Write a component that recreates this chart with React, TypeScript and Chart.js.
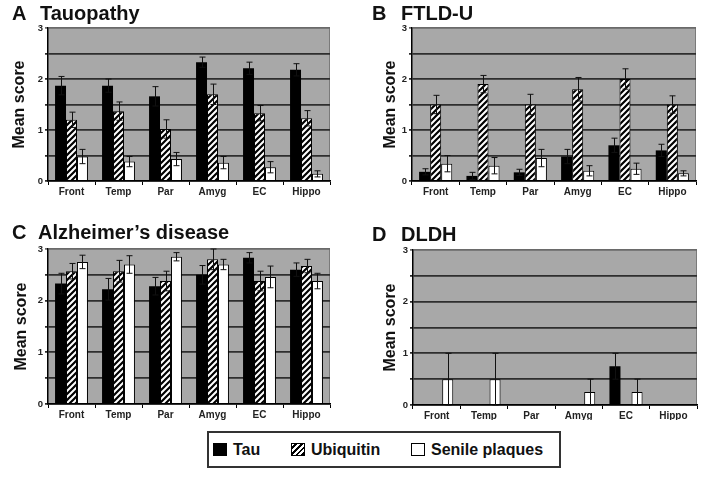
import React, { useEffect, useRef } from 'react';
import { Chart, registerables } from 'chart.js';
Chart.register(...registerables);

const FONT = '"Liberation Sans", Arial, Helvetica, sans-serif';

const categories = ['Front', 'Temp', 'Par', 'Amyg', 'EC', 'Hippo'];
const seriesNames = ['Tau', 'Ubiquitin', 'Senile plaques'];
const yAxisTitle = 'Mean score';

// Panel A – Tauopathy
const tauA = [1.87, 1.87, 1.66, 2.33, 2.21, 2.18];
const tauAErr = [0.18, 0.13, 0.19, 0.1, 0.12, 0.12];
const ubiA = [1.2, 1.37, 1.02, 1.7, 1.33, 1.23];
const ubiAErr = [0.15, 0.18, 0.18, 0.2, 0.15, 0.15];
const spA = [0.48, 0.38, 0.43, 0.36, 0.27, 0.14];
const spAErr = [0.14, 0.1, 0.13, 0.12, 0.11, 0.06];

// Panel B – FTLD-U
const tauB = [0.18, 0.1, 0.17, 0.48, 0.7, 0.6];
const tauBErr = [0.06, 0.07, 0.06, 0.14, 0.14, 0.12];
const ubiB = [1.5, 1.9, 1.5, 1.8, 2.0, 1.5];
const ubiBErr = [0.18, 0.17, 0.2, 0.23, 0.2, 0.17];
const spB = [0.34, 0.3, 0.45, 0.2, 0.24, 0.15];
const spBErr = [0.16, 0.16, 0.17, 0.1, 0.11, 0.05];

// Panel C – Alzheimer's disease
const tauC = [2.33, 2.22, 2.28, 2.5, 2.83, 2.6];
const tauCErr = [0.2, 0.21, 0.17, 0.18, 0.1, 0.13];
const ubiC = [2.57, 2.57, 2.38, 2.8, 2.38, 2.67];
const ubiCErr = [0.15, 0.21, 0.19, 0.2, 0.19, 0.13];
const spC = [2.75, 2.7, 2.85, 2.7, 2.46, 2.38];
const spCErr = [0.13, 0.17, 0.08, 0.1, 0.21, 0.15];

// Panel D – DLDH
const tauD = [0, 0, 0, 0, 0.75, 0];
const tauDErr = [0, 0, 0, 0, 0.25, 0];
const ubiD = [0, 0, 0, 0, 0, 0];
const ubiDErr = [0, 0, 0, 0, 0, 0];
const spD = [0.5, 0.5, 0, 0.25, 0.25, 0];
const spDErr = [0.5, 0.5, 0, 0.25, 0.25, 0];

function makeHatch(): CanvasPattern | string {
  const c = document.createElement('canvas');
  c.width = 6;
  c.height = 6;
  const g = c.getContext('2d');
  if (!g) return '#888';
  g.fillStyle = '#fff';
  g.fillRect(0, 0, 6, 6);
  g.strokeStyle = '#000';
  g.lineWidth = 2.2;
  g.beginPath();
  g.moveTo(-1, 7);
  g.lineTo(7, -1);
  g.moveTo(-1, 1);
  g.lineTo(1, -1);
  g.moveTo(5, 7);
  g.lineTo(7, 5);
  g.stroke();
  return g.createPattern(c, 'repeat') || '#888';
}

type PanelProps = {
  letter: string;
  title: string;
  tau: number[]; tauErr: number[];
  ubi: number[]; ubiErr: number[];
  sp: number[]; spErr: number[];
  left: number; top: number; width: number; height: number;
  padTop: number; padRight: number; yWidth: number; xHeight: number;
  letterX: number; titleX: number; titleY: number; yTitlePad: number;
};

function Panel(p: PanelProps) {
  const ref = useRef<HTMLCanvasElement | null>(null);
  useEffect(() => {
    if (!ref.current) return;
    const hatch = makeHatch();
    const bgPlugin = {
      id: 'plotBg',
      beforeDraw(chart: any) {
        const { ctx, chartArea: a } = chart;
        ctx.save();
        ctx.fillStyle = '#a8a8a8';
        ctx.fillRect(a.left, a.top, a.right - a.left, a.bottom - a.top);
        ctx.strokeStyle = '#7a7a7a';
        ctx.lineWidth = 1;
        ctx.beginPath();
        ctx.moveTo(a.right - 0.5, a.top);
        ctx.lineTo(a.right - 0.5, a.bottom);
        ctx.stroke();
        ctx.restore();
      },
    };
    const errPlugin = {
      id: 'errBars',
      afterDatasetsDraw(chart: any) {
        const { ctx } = chart;
        const y = chart.scales.y;
        ctx.save();
        ctx.strokeStyle = '#111';
        ctx.lineWidth = 1;
        chart.data.datasets.forEach((ds: any, i: number) => {
          const meta = chart.getDatasetMeta(i);
          meta.data.forEach((bar: any, j: number) => {
            const e = ds.errorBars[j];
            if (!e) return;
            const v = ds.data[j];
            const x = Math.round(bar.x) + 0.5;
            const yT = y.getPixelForValue(v + e);
            const yB = y.getPixelForValue(Math.max(0, v - e));
            ctx.beginPath();
            ctx.moveTo(x, yT);
            ctx.lineTo(x, yB);
            ctx.moveTo(x - 3, yT);
            ctx.lineTo(x + 3, yT);
            ctx.moveTo(x - 3, yB);
            ctx.lineTo(x + 3, yB);
            ctx.stroke();
          });
        });
        ctx.restore();
      },
    };
    const titlePlugin = {
      id: 'panelTitle',
      afterDraw(chart: any) {
        const { ctx } = chart;
        ctx.save();
        ctx.fillStyle = '#111';
        ctx.font = `bold 20px ${FONT}`;
        ctx.textBaseline = 'middle';
        ctx.textAlign = 'left';
        ctx.fillText(p.letter, p.letterX, p.titleY);
        ctx.fillText(p.title, p.titleX, p.titleY);
        ctx.restore();
      },
    };
    const chart = new Chart(ref.current, {
      type: 'bar',
      data: {
        labels: categories,
        datasets: [
          {
            label: seriesNames[0], data: p.tau, errorBars: p.tauErr,
            backgroundColor: '#000', borderColor: '#000', borderWidth: 0,
          } as any,
          {
            label: seriesNames[1], data: p.ubi, errorBars: p.ubiErr,
            backgroundColor: hatch, borderColor: '#000', borderWidth: 1,
          } as any,
          {
            label: seriesNames[2], data: p.sp, errorBars: p.spErr,
            backgroundColor: '#fff', borderColor: '#000', borderWidth: 1,
          } as any,
        ],
      },
      options: {
        responsive: false,
        animation: false,
        datasets: { bar: { barPercentage: 1, categoryPercentage: 0.7 } },
        layout: { padding: { left: 0, right: p.padRight, top: p.padTop, bottom: 0 } },
        plugins: { legend: { display: false }, tooltip: { enabled: false }, title: { display: false } },
        scales: {
          x: {
            ticks: { font: { family: FONT, size: 10, weight: 'bold' }, color: '#222', padding: 1, maxRotation: 0, autoSkip: false },
            grid: { offset: true, drawOnChartArea: false, drawTicks: true, tickLength: 4, color: '#000', lineWidth: 1 },
            border: { display: true, color: '#000', width: 1.5 },
            afterFit: (s: any) => { s.height = p.xHeight; },
          },
          y: {
            min: 0,
            max: 3,
            ticks: {
              stepSize: 0.5,
              callback: (v: any) => (Number.isInteger(Number(v)) ? String(v) : ''),
              font: { family: FONT, size: 9.5, weight: 'bold' },
              color: '#222',
              padding: 2,
            },
            grid: {
              color: (c: any) => (c.tick && c.tick.value === 3 ? '#6a6a6a' : '#2e2e2e'),
              lineWidth: 1.8,
              tickLength: 3,
              drawTicks: true,
            },
            border: { display: true, color: '#000', width: 1.5 },
            title: {
              display: true,
              text: yAxisTitle,
              font: { family: FONT, size: 16, weight: 'bold' },
              color: '#111',
              padding: { top: p.yTitlePad, bottom: 0 },
            },
            afterFit: (s: any) => { s.width = p.yWidth; },
          },
        },
      } as any,
      plugins: [bgPlugin, errPlugin, titlePlugin],
    });
    return () => chart.destroy();
  }, []);
  return (
    <canvas
      ref={ref}
      width={p.width}
      height={p.height}
      style={{ position: 'absolute', left: p.left, top: p.top, width: p.width, height: p.height }}
    />
  );
}

function Swatch({ kind }: { kind: number }) {
  const base: React.CSSProperties = {
    display: 'inline-block', width: 14, height: 13, boxSizing: 'border-box',
    border: '1px solid #000', marginRight: 6, verticalAlign: 'middle',
  };
  if (kind === 0) return <span style={{ ...base, background: '#000' }} />;
  if (kind === 1)
    return (
      <span
        style={{
          ...base,
          background: 'repeating-linear-gradient(135deg, #fff 0px, #fff 2px, #000 2px, #000 4px)',
        }}
      />
    );
  return <span style={{ ...base, background: '#fff' }} />;
}

export default function App() {
  return (
    <div style={{ position: 'absolute', left: 0, top: 0, width: 708, height: 477, background: '#fff', overflow: 'hidden' }}>
      <Panel
        letter="A" title="Tauopathy"
        tau={tauA} tauErr={tauAErr} ubi={ubiA} ubiErr={ubiAErr} sp={spA} spErr={spAErr}
        left={0} top={0} width={354} height={205}
        padTop={28} padRight={24} yWidth={48} xHeight={24}
        letterX={12} titleX={40} titleY={14} yTitlePad={10}
      />
      <Panel
        letter="B" title="FTLD-U"
        tau={tauB} tauErr={tauBErr} ubi={ubiB} ubiErr={ubiBErr} sp={spB} spErr={spBErr}
        left={354} top={0} width={354} height={205}
        padTop={28} padRight={12} yWidth={58} xHeight={24}
        letterX={18} titleX={47} titleY={14} yTitlePad={27}
      />
      <Panel
        letter="C" title="Alzheimer’s disease"
        tau={tauC} tauErr={tauCErr} ubi={ubiC} ubiErr={ubiCErr} sp={spC} spErr={spCErr}
        left={0} top={215} width={354} height={205}
        padTop={34} padRight={24} yWidth={48} xHeight={16}
        letterX={12} titleX={38} titleY={18} yTitlePad={12}
      />
      <Panel
        letter="D" title="DLDH"
        tau={tauD} tauErr={tauDErr} ubi={ubiD} ubiErr={ubiDErr} sp={spD} spErr={spDErr}
        left={354} top={215} width={354} height={205}
        padTop={35} padRight={11} yWidth={59} xHeight={15}
        letterX={18} titleX={47} titleY={20} yTitlePad={27}
      />
      <div
        style={{
          position: 'absolute', left: 207, top: 431, width: 354, height: 37, boxSizing: 'border-box',
          border: '2px solid #333', display: 'flex', alignItems: 'center',
          fontFamily: FONT, fontWeight: 'bold', fontSize: 16, color: '#111', whiteSpace: 'nowrap',
        }}
      >
        <span style={{ position: 'absolute', left: 4, display: 'flex', alignItems: 'center' }}>
          <Swatch kind={0} />{seriesNames[0]}
        </span>
        <span style={{ position: 'absolute', left: 82, display: 'flex', alignItems: 'center' }}>
          <Swatch kind={1} />{seriesNames[1]}
        </span>
        <span style={{ position: 'absolute', left: 202, display: 'flex', alignItems: 'center' }}>
          <Swatch kind={2} />{seriesNames[2]}
        </span>
      </div>
    </div>
  );
}
